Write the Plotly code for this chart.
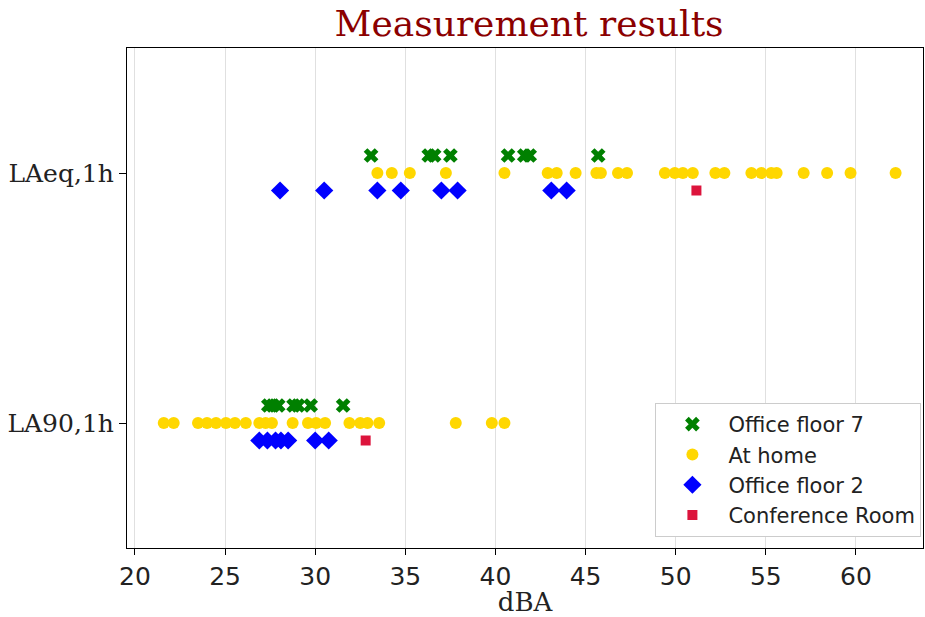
import plotly.graph_objects as go

# Categories (y axis)
categories = ["LA90,1h", "LAeq,1h"]

# Office floor 7
of7_laeq = [33.1, 36.3, 36.6, 37.5, 40.7, 41.6, 41.9, 45.7]
of7_la90 = [27.4, 27.65, 27.95, 28.8, 29.05, 29.75, 31.55]

# At home
home_laeq = [33.45, 34.25, 35.25, 37.25, 40.5, 42.9, 43.4, 44.45, 45.6, 45.85,
             46.8, 47.3, 49.4, 49.95, 50.4, 50.95, 52.2, 52.7, 54.2, 54.75,
             55.3, 55.6, 57.1, 58.4, 59.7, 62.2]
home_la90 = [21.6, 22.15, 23.5, 24.0, 24.5, 25.05, 25.55, 26.15, 26.9, 27.25,
             27.6, 28.75, 29.6, 30.05, 30.55, 31.9, 32.5, 32.9, 33.55, 37.8,
             39.8, 40.5]

# Office floor 2
of2_laeq = [28.05, 30.5, 33.45, 34.75, 37.0, 37.9, 43.1, 43.95]
of2_la90 = [26.9, 27.35, 27.8, 28.1, 28.5, 30.0, 30.75]

# Conference Room
conf_laeq = [51.15]
conf_la90 = [32.8]

x_ticks = [20, 25, 30, 35, 40, 45, 50, 55, 60]

series = [
    ("Office floor 7", of7_la90, of7_laeq, 0.07, "x", "green", 13),
    ("At home", home_la90, home_laeq, 0.0, "circle", "gold", 12),
    ("Office floor 2", of2_la90, of2_laeq, -0.07, "diamond", "blue", 14),
    ("Conference Room", conf_la90, conf_laeq, -0.07, "square", "crimson", 10),
]

fig = go.Figure()
for name, la90, laeq, off, sym, col, size in series:
    xs = list(la90) + list(laeq)
    ys = [0 + off] * len(la90) + [1 + off] * len(laeq)
    fig.add_trace(go.Scatter(
        x=xs, y=ys, mode="markers", name=name,
        marker=dict(symbol=sym, color=col, size=size, line=dict(width=0)),
    ))

fig.update_layout(
    width=925, height=617,
    margin=dict(l=127, r=2, t=48, b=69, autoexpand=False),
    paper_bgcolor="white", plot_bgcolor="white",
    title=dict(text="Measurement results", x=0.572, xanchor="center",
               y=0.962, yanchor="middle", yref="container",
               font=dict(family="DejaVu Serif", size=36, color="darkred")),
    legend=dict(x=0.998, y=0.022, xanchor="right", yanchor="bottom",
                bgcolor="white", bordercolor="#cccccc", borderwidth=1,
                font=dict(family="DejaVu Sans", size=21, color="#222"),
                itemwidth=62, tracegroupgap=0),
    showlegend=True,
)
fig.update_xaxes(
    range=[19.56, 63.72], tickvals=x_ticks, automargin=False,
    showgrid=True, gridcolor="#e0e0e0", gridwidth=1,
    showline=True, linecolor="black", linewidth=1.2, mirror=True,
    ticks="outside", ticklen=6, tickcolor="black",
    tickfont=dict(family="DejaVu Sans", size=25, color="#222"),
    title=dict(text="dBA", font=dict(family="DejaVu Serif", size=26, color="#222"),
               standoff=0),
    zeroline=False,
)
fig.update_yaxes(
    range=[-0.5, 1.5], tickvals=[0, 1], ticktext=categories, automargin=False,
    showgrid=False,
    showline=True, linecolor="black", linewidth=1.2, mirror=True,
    ticks="outside", ticklen=7, tickcolor="black",
    tickfont=dict(family="DejaVu Serif", size=25, color="#222"),
    zeroline=False,
)

fig.write_html("out.html", config={"displayModeBar": False},
               post_script="document.body.style.margin='0';")
